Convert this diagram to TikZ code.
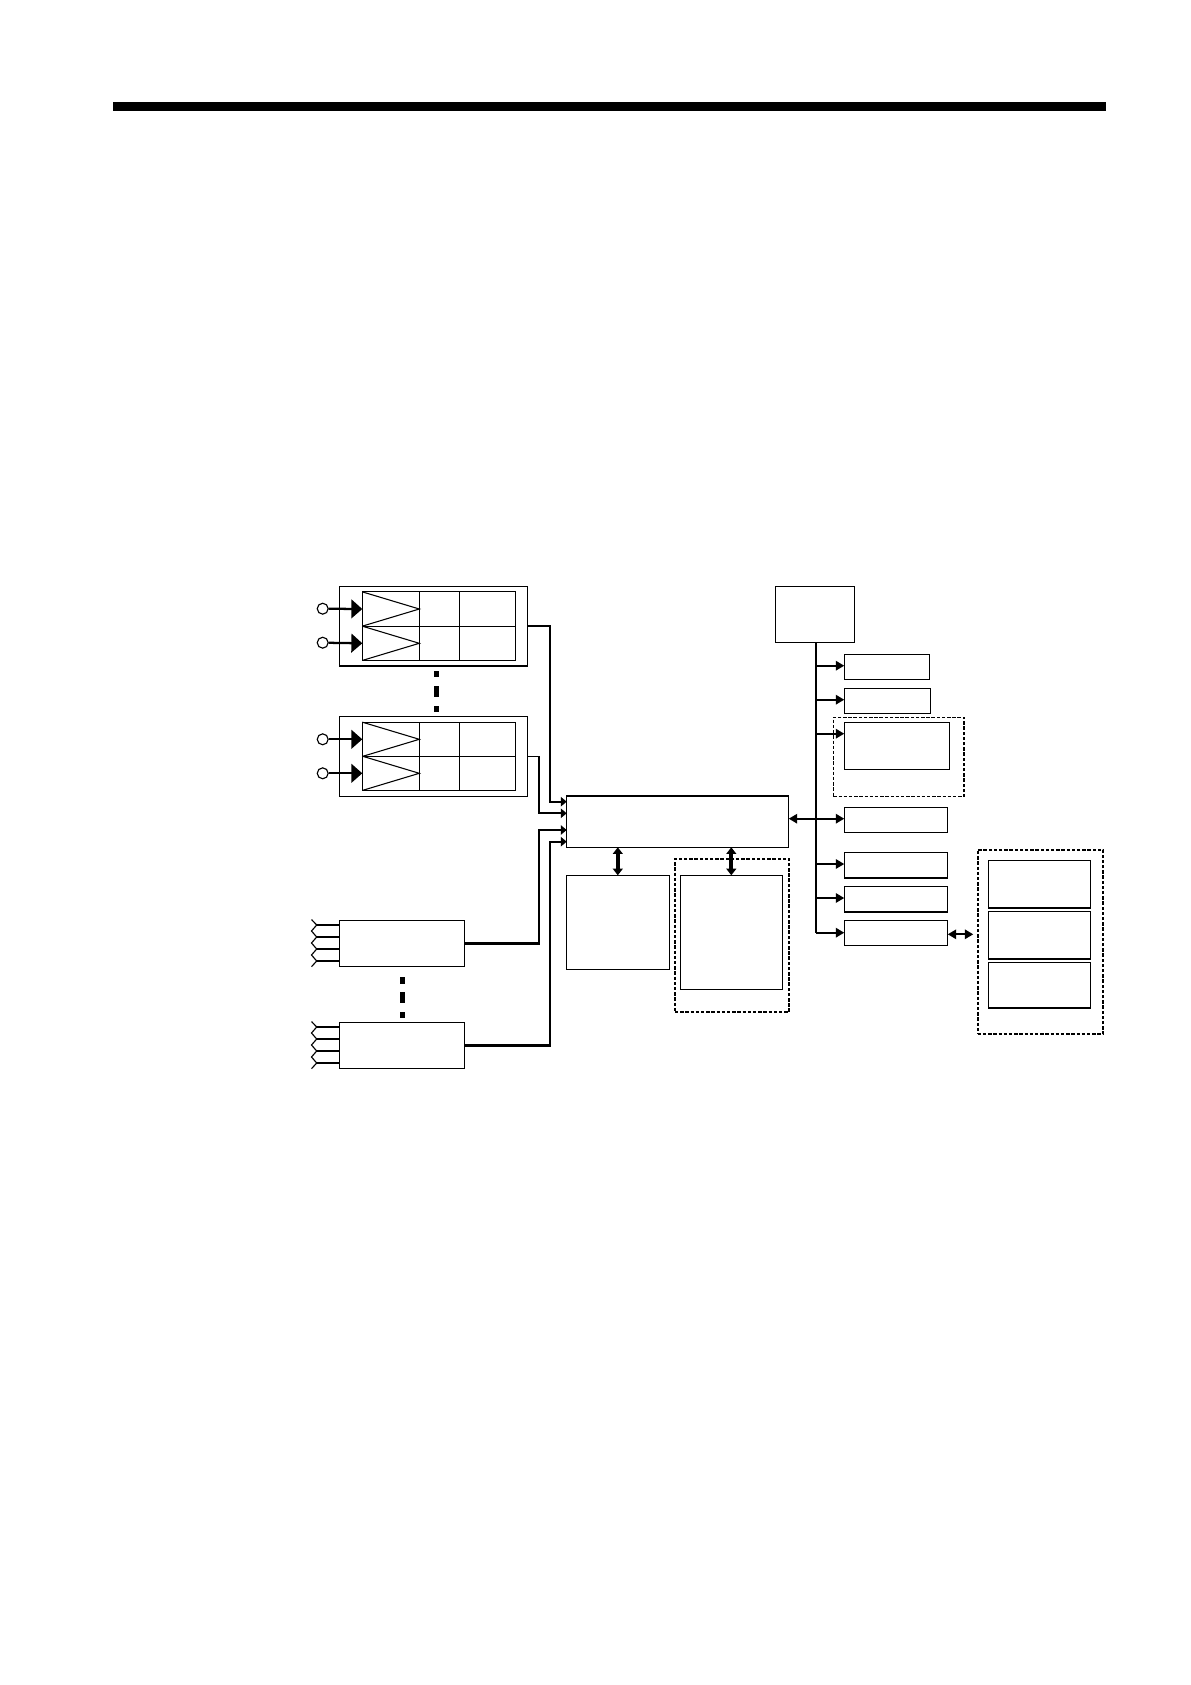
\documentclass[tikz,border=0pt]{standalone}
\usepackage{tikz}
\usetikzlibrary{positioning,arrows.meta}

\begin{document}
\begin{tikzpicture}[
    x=0.75pt, y=-0.75pt,
    wh/.style 2 args={minimum width=#1*0.75pt, minimum height=#2*0.75pt},
    box/.style={draw, line width=0.85pt, inner sep=0pt, outer sep=0pt, anchor=north west},
    cell/.style={box, anchor=west, line width=0.8pt},
    group/.style={box, dashed, line width=1.05pt, dash pattern=on 2.6pt off 1.3pt},
    port/.style={draw, circle, line width=0.85pt, inner sep=0pt, minimum size=8.2pt},
    gap/.style={fill=black, inner sep=0pt, outer sep=0pt, minimum width=3.8pt},
    wire/.style={line width=1.7pt},
    thin wire/.style={line width=1.25pt},
    heavy/.style={line width=1.7pt},
    arr/.style={wire, -{Triangle[length=6.4pt, width=7pt]}},
    twoway/.style={wire, {Triangle[length=6.4pt, width=7pt]}-{Triangle[length=6.4pt, width=7pt]}},
    fat/.style={line width=3.2pt, {Triangle[length=5pt, width=7.4pt]}-{Triangle[length=5pt, width=7.4pt]}},
    entry/.style={-{Triangle[length=4.4pt, width=7pt]}},
    drive/.style={wire, -{Triangle[length=8.2pt, width=14pt]}},
    tooth/.style={line width=0.85pt},
  ]
  \useasboundingbox (0,0) rectangle (1191,1685);
  \fill (113,102) rectangle (1106,111);

  % input modules
  \node[box, wh={188.2}{79.7}] (moda) at (339.5,586.3) {};
  \node[box, wh={188.2}{80.4}] (modb) at (339.5,716.3) {};
  \draw[heavy] (moda.south west) -- (moda.south east);
  \foreach \m/\yt/\yu/\pt/\pu in {a/609/643.3/608.7/642.7, b/739.3/773.3/739.3/773.3} {
    \node[cell, wh={57}{34.3}]                 (\m1) at (362.3,\yt) {};
    \node[cell, wh={40}{34.3}, right=0pt of \m1] (\m2) {};
    \node[cell, wh={56.4}{34.3}, right=0pt of \m2] (\m3) {};
    \node[cell, wh={57}{34.3}]                 (\m4) at (362.3,\yu) {};
    \node[cell, wh={40}{34.3}, right=0pt of \m4] (\m5) {};
    \node[cell, wh={56.4}{34.3}, right=0pt of \m5] (\m6) {};
    \draw[line width=0.8pt] (\m1.north west) -- (\m1.east) -- (\m1.south west);
    \draw[line width=0.8pt] (\m4.north west) -- (\m4.east) -- (\m4.south west);
    \node[port] (\m p1) at (322.7,\pt) {};
    \node[port] (\m p2) at (322.7,\pu) {};
    \draw[drive] (\m p1) -- (\m1.west);
    \draw[drive] (\m p2) -- (\m4.west);
  }
  \foreach \y/\h in {673.8/5.7, 691.5/11, 708.8/5.7}
    \node[gap, minimum height=\h*0.75pt] (sepa\y) at (436.3,\y) {};

  % analog modules
  \node[box, wh={125.4}{46.6}] (adca) at (339.3,920.3) {};
  \node[box, wh={125.4}{46.6}] (adcb) at (339.3,1022.3) {};
  \foreach \n/\y in {adca/925, adcb/1027} {
    \foreach \d in {0,12,24,36}
      \draw[wire] (316.7,\y+\d) -- (\n.west |- 0,\y+\d);
    \draw[tooth] (311.5,\y-5.5) -- (316.7,\y) -- (311.5,\y+6) -- (316.7,\y+12)
      -- (311.5,\y+18) -- (316.7,\y+24) -- (311.5,\y+30) -- (316.7,\y+36) -- (311.5,\y+41.7);
  }
  \foreach \y/\h in {980.5/7, 997.3/10.7, 1015/6}
    \node[gap, minimum height=\h*0.75pt] (sepb\y) at (402.3,\y) {};

  % processor
  \node[box, wh={222}{51.6}] (main) at (566.7,795.7) {};
  \draw[heavy] (main.north west) -- (main.north east);
  \coordinate (ina) at (566.7,801.7);
  \coordinate (inb) at (566.7,813.3);
  \coordinate (inc) at (566.7,830);
  \coordinate (ind) at (566.7,841.7);
  \draw[wire, entry] (moda.east) -- ++(22.3,0) |- (ina);
  \draw[thin wire, entry] (modb.east) -- ++(11,0) |- (inb);
  \draw[wire, entry] (adca.east) -- ++(74.3,0) |- (inc);
  \draw[wire, entry] (adcb.east) -- ++(85.3,0) |- (ind);

  % memories
  \node[box, wh={103}{94}]   (ram)  at (566.3,875.3) {};
  \node[group, line width=1.4pt, wh={114.3}{153}] (romg) at (675,859) {};
  \node[box, wh={102}{114}]  (rom)  at (680.3,875.3) {};
  \draw[fat] (main.south -| ram.north) -- (ram.north);
  \draw[fat] (main.south -| rom.north) -- (rom.north);

  % peripherals
  \node[box, wh={79}{56}]    (ctl) at (775.3,586.3) {};
  \node[box, wh={85}{25}]    (pera) at (844.3,654.3) {};
  \node[box, wh={86}{25}]    (perb) at (844.3,688.3) {};
  \node[group, wh={130.7}{79.4}] (perg) at (833.3,717.3) {};
  \node[box, wh={105.4}{47}] (perc) at (844.3,722.3) {};
  \node[box, wh={103}{25}]   (perd) at (844.3,807.3) {};
  \node[box, wh={103.4}{25.7}] (pere) at (844.3,852.3) {};
  \node[box, wh={103.4}{25.7}] (perf) at (844.3,886.3) {};
  \node[box, wh={103.4}{25}] (perh) at (844.3,920.3) {};
  \draw[heavy] (pere.south west) -- (pere.south east);
  \draw[heavy] (perf.south west) -- (perf.south east);

  \coordinate (bus) at (816,642.3);
  \draw[wire] (bus) -- (bus |- 0,932.7);
  \foreach \n/\y in {pera/665.7, perb/699.7, perc/733.7, pere/864, perf/898, perh/932.7}
    \draw[arr] (bus |- 0,\y) -- (\n.west |- 0,\y);
  \draw[twoway] (main.east |- 0,818.7) -- (perd.west |- 0,818.7);

  % external units
  \node[group, line width=1.4pt, wh={125.6}{184.3}] (extg) at (977.7,849.7) {};
  \node[box, wh={102.4}{47.7}] (exta) at (988.3,860.3) {};
  \node[box, wh={102.4}{48}]   (extb) at (988.3,911.3) {};
  \node[box, wh={102.4}{46}]   (extc) at (988.3,962.3) {};
  \foreach \n in {exta,extb,extc}
    \draw[heavy] (\n.south west) -- (\n.south east);
  \coordinate (extin) at (973.3,934.3);
  \draw[twoway] (perh.east |- extin) -- (extin);
\end{tikzpicture}
\end{document}
